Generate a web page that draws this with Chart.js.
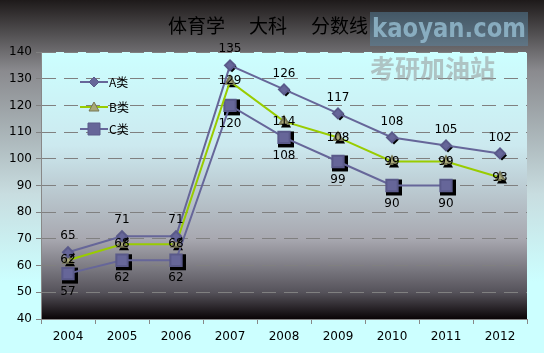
<!DOCTYPE html>
<html>
<head>
<meta charset="utf-8">
<script src="https://cdn.jsdelivr.net/npm/chart.js@4"></script>
<style>
  html, body { margin: 0; padding: 0; background: #ccffff; }
  #wrap { width: 544px; height: 353px; }
</style>
</head>
<body>
<div id="wrap"><canvas id="myChart" width="544" height="353"></canvas></div>
<script>
const years = ['2004', '2005', '2006', '2007', '2008', '2009', '2010', '2011', '2012'];
const scoresA = [65, 71, 71, 135, 126, 117, 108, 105, 102];
const scoresB = [62, 68, 68, 129, 114, 108, 99, 99, 93];
const scoresC = [57, 62, 62, 120, 108, 99, 90, 90, null];
const seriesNames = ['A类', 'B类', 'C类'];
const titleParts = ['体育学', '大科', '分数线'];

const font = "'DejaVu Sans', sans-serif";
const cjk = "'Noto Sans CJK SC', sans-serif";

// fonds dégradés + titre + filigrane
const backgrounds = {
  id: 'backgrounds',
  beforeDraw(chart) {
    const c = chart.ctx, a = chart.chartArea;
    let g = c.createLinearGradient(0, 0, 0, chart.height);
    g.addColorStop(0, '#1e1a1a');
    g.addColorStop(0.2, '#8a8a8e');
    g.addColorStop(0.55, '#c8dde0');
    g.addColorStop(0.8, '#ccffff');
    g.addColorStop(1, '#ccffff');
    c.save();
    c.fillStyle = g;
    c.fillRect(0, 0, chart.width, chart.height);
    g = c.createLinearGradient(0, a.top, 0, a.bottom);
    g.addColorStop(0, '#ccffff');
    g.addColorStop(0.35, '#cce9ef');
    g.addColorStop(0.7, '#a8a8b0');
    g.addColorStop(0.9, '#55525a');
    g.addColorStop(1, '#0a0406');
    c.fillStyle = g;
    c.fillRect(a.left, a.top, a.right - a.left, a.bottom - a.top);
    c.restore();
  },
  afterDraw(chart) {
    const c = chart.ctx;
    c.save();
    c.fillStyle = '#000';
    c.font = "19px " + cjk;
    c.textAlign = 'left';
    c.textBaseline = 'middle';
    let x = 168;
    titleParts.forEach(t => {
      c.fillText(t, x, 26);
      x += c.measureText(t).width + 24;
    });
    // filigrane
    c.fillStyle = 'rgba(90,140,170,0.45)';
    c.fillRect(370, 12, 158, 34);
    c.fillStyle = 'rgba(150,190,210,0.8)';
    c.font = "bold 26px " + font;
    c.fillText('kaoyan.com', 372, 30, 154);
    c.fillStyle = 'rgba(150,150,150,0.55)';
    c.font = "bold 25px " + cjk;
    c.fillText('考研加油站', 370, 68);
    c.restore();
  }
};

function pointPath(c, style, x, y, r) {
  c.beginPath();
  if (style === 'rectRot') {
    c.moveTo(x, y - r); c.lineTo(x + r, y); c.lineTo(x, y + r); c.lineTo(x - r, y);
  } else if (style === 'triangle') {
    c.moveTo(x, y - r); c.lineTo(x + r, y + r * 0.8); c.lineTo(x - r, y + r * 0.8);
  } else {
    c.rect(x - r, y - r, r * 2, r * 2);
  }
  c.closePath();
}

// ombres des marqueurs, étiquettes de valeurs, légende
const labelsAndLegend = {
  id: 'labelsAndLegend',
  beforeDatasetsDraw(chart) {
    const c = chart.ctx;
    c.save();
    c.fillStyle = '#000';
    chart.data.datasets.forEach((ds, i) => {
      chart.getDatasetMeta(i).data.forEach((pt, j) => {
        if (ds.data[j] == null) return;
        pointPath(c, ds.pointStyle, pt.x + 2, pt.y + 2, ds.pointStyle === 'rect' ? 8 : 5);
        c.fill();
      });
    });
    c.restore();
  },
  afterDatasetsDraw(chart) {
    const c = chart.ctx;
    const offsets = [-16, 0, 18];
    c.save();
    c.font = "12px " + font;
    c.fillStyle = '#000';
    c.textAlign = 'center';
    c.textBaseline = 'middle';
    chart.data.datasets.forEach((ds, i) => {
      chart.getDatasetMeta(i).data.forEach((pt, j) => {
        if (ds.data[j] == null) return;
        c.fillText(ds.data[j], pt.x, pt.y + offsets[i]);
      });
    });
    // légende
    const rows = [82, 107, 129];
    chart.data.datasets.forEach((ds, i) => {
      const y = rows[i];
      c.strokeStyle = ds.borderColor;
      c.lineWidth = 2;
      c.beginPath();
      c.moveTo(80, y);
      c.lineTo(108, y);
      c.stroke();
      c.fillStyle = ds.pointBackgroundColor;
      c.strokeStyle = ds.pointBorderColor;
      c.lineWidth = 1;
      pointPath(c, ds.pointStyle, 94, y, ds.pointStyle === 'rect' ? 6 : 5);
      c.fill();
      c.stroke();
      c.fillStyle = '#000';
      c.textAlign = 'left';
      c.font = "12px " + cjk;
      c.fillText(seriesNames[i], 109, y);
    });
    c.restore();
  }
};

const ctx = document.getElementById('myChart');

new Chart(ctx, {
  type: 'line',
  data: {
    labels: years,
    datasets: [
      {
        label: seriesNames[0],
        data: scoresA,
        borderColor: '#666699',
        borderWidth: 2,
        pointStyle: 'rectRot',
        pointRadius: 5,
        pointBackgroundColor: '#666699',
        pointBorderColor: '#5a5a8a'
      },
      {
        label: seriesNames[1],
        data: scoresB,
        borderColor: '#99cc00',
        borderWidth: 2,
        pointStyle: 'triangle',
        pointRadius: 5,
        pointBackgroundColor: '#a8a878',
        pointBorderColor: '#777755'
      },
      {
        label: seriesNames[2],
        data: scoresC,
        borderColor: '#666699',
        borderWidth: 2,
        pointStyle: 'rect',
        pointRadius: 8,
        pointBackgroundColor: '#666699',
        pointBorderColor: '#5a5a8a'
      }
    ]
  },
  options: {
    responsive: false,
    animation: false,
    spanGaps: false,
    layout: { padding: { top: 52, right: 17, left: 0, bottom: 0 } },
    plugins: {
      legend: false,
      title: false,
      tooltip: false
    },
    scales: {
      x: {
        offset: true,
        afterFit: s => { s.height = 34; },
        grid: {
          offset: true,
          drawOnChartArea: false,
          color: '#888888',
          tickLength: 5
        },
        border: { color: '#888888' },
        ticks: { color: '#000', font: { family: font, size: 12 }, padding: 6 }
      },
      y: {
        min: 40,
        max: 140,
        afterFit: s => { s.width = 41; },
        ticks: { stepSize: 10, color: '#000', font: { family: font, size: 12 }, padding: 4 },
        grid: { color: '#808080', tickLength: 5 },
        border: { color: '#888888', dash: [14, 8] }
      }
    }
  },
  plugins: [backgrounds, labelsAndLegend]
});
</script>
</body>
</html>
